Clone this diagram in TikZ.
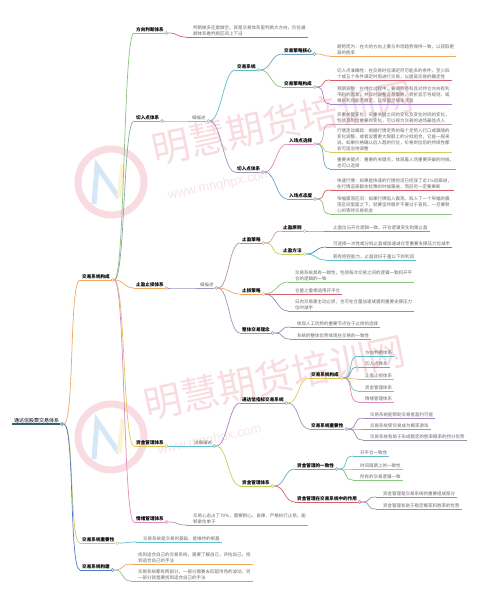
\documentclass[tikz,border=0pt]{standalone}
\usepackage{fontspec}
\newfontfamily\cjk{Noto Sans CJK SC}
\newfontfamily\wmsans{Liberation Sans}
\usetikzlibrary{calc}
\definecolor{cRoot}{RGB}{52,96,122}
\definecolor{cOrange}{RGB}{240,168,96}
\definecolor{cYG}{RGB}{200,205,100}
\definecolor{cBlue}{RGB}{80,125,195}
\definecolor{cGreen}{RGB}{140,195,130}
\definecolor{cGTeal}{RGB}{140,170,165}
\definecolor{cYellow}{RGB}{220,200,90}
\definecolor{cPink}{RGB}{225,140,185}
\definecolor{cRed}{RGB}{215,95,105}
\definecolor{cMauve}{RGB}{200,160,175}
\definecolor{cTeal}{RGB}{95,190,200}
\definecolor{cLav}{RGB}{160,150,190}
\definecolor{cBTeal}{RGB}{110,165,200}
\definecolor{cPurple}{RGB}{165,130,195}
\definecolor{cBrown}{RGB}{185,150,145}
\definecolor{cGrey}{RGB}{150,150,165}
\definecolor{cWm}{RGB}{249,220,225}
\definecolor{cWmUrl}{RGB}{247,228,231}
\definecolor{cLogoB}{RGB}{214,232,246}
\definecolor{cLogoY}{RGB}{251,243,210}
\definecolor{cLeafTxt}{RGB}{105,105,105}
\tikzset{
  lab/.style={font=\cjk\bfseries\fontsize{4.6}{5.5}\selectfont, inner sep=0pt, inner xsep=0.8pt, anchor=base west, text=black},
  rootlab/.style={font=\cjk\fontsize{5}{6}\selectfont, inner sep=0pt, inner xsep=0.8pt, anchor=base west, text=black},
  det/.style={font=\cjk\fontsize{4.4}{5.5}\selectfont, inner sep=0pt, inner xsep=0.8pt, anchor=base west, text=cLeafTxt},
  lftxt/.style={font=\cjk\fontsize{4.5}{5.9}\selectfont, inner sep=0pt, align=left, anchor=south west, text=cLeafTxt},
  dot/.style={circle, fill=white, inner sep=0pt, minimum size=3pt, line width=0.5pt, anchor=west},
  br/.style={line width=0.7pt},
  wm/.style={font=\cjk\fontsize{38}{38}\selectfont, text=cWm, rotate=12, anchor=west, inner sep=0pt},
  wmurl/.style={font=\wmsans\fontsize{13}{13}\selectfont, text=cWmUrl, rotate=12, anchor=west, inner sep=0pt},
}
% topic: style, name, x1, y, color, text
\newcommand\tpx[6]{%
  \coordinate (#2-in) at (#3,#4);
  \node[#1] (#2) at (#3+1.2,#4-1.5) {#6};
  \draw[br,#5] (#2-in) -- (#2.east |- #2-in) coordinate (#2-e);
  \node[dot,draw=#5] (#2-o) at (#2-e) {};
}
\newcommand\tp[5]{\tpx{lab}{#1}{#2}{#3}{#4}{#5}}
\newcommand\dt[5]{\tpx{det}{#1}{#2}{#3}{#4}{#5}}
% leaf: name, xtext, y, color, text
\newcommand\lf[5]{%
  \coordinate (#1-in) at (#2-7,#3);
  \node[lftxt] (#1) at (#2,#3-1.1) {#5};
  \draw[br,#4] (#1-in) -- ($(#1.east |- #1-in)+(2,0)$);
}
% connector: from, to, color
\newcommand\cn[3]{\draw[br,#3] (#1-o.east) to[out=0,in=180,distance=11pt] (#2-in);}
\begin{document}
\begin{tikzpicture}[x=1pt,y=-1pt]
\fill[white] (0,0) rectangle (500,601);
\useasboundingbox (0,0) rectangle (500,601);
% ---- watermark ----
\foreach \dy in {0,255}{
  \draw[cWm, line width=7pt] (111,182+\dy) circle (33);
  \draw[cLogoB, line width=5pt] (94,204+\dy) -- (97,166+\dy) -- (119,198+\dy);
  \draw[cLogoY, line width=5pt] (119,198+\dy) -- (123,164+\dy);
}
\node[wm] (wm1) at (152,150) {明慧期货培训网};
\node[wm] (wm2) at (144,405) {明慧期货培训网};
\node[wmurl] (wu1) at (168,196) {www.mnqhpx.com};
\node[wmurl] (wu2) at (158,451) {www.mnqhpx.com};
% ---- root ----
\coordinate (root-in) at (12,424);
\node[rootlab] (root) at (13.2,422.3) {通达信股票交易体系};
\draw[cRoot, line width=1.2pt] (root-in) -- (root.east |- root-in) coordinate (root-e);
\node[dot,draw=cRoot] (root-o) at (root-e) {};
% ---- level 1 ----
\tp{n1}{80}{280}{cOrange}{交易系统构成}
\tp{n2}{80}{543}{cYG}{交易系统重要性}
\tp{n3}{80}{570}{cBlue}{交易系统构建}
\cn{root}{n1}{cOrange}
\cn{root}{n2}{cYG}
\cn{root}{n3}{cBlue}
% ---- level 2 ----
\tp{a}{134}{33}{cGreen}{方向判断体系}
\tp{b}{134}{121}{cGTeal}{切入点体系}
\tp{c}{134}{288}{cOrange}{止盈止损体系}
\tp{d}{134}{446}{cYellow}{资金管理体系}
\tp{e}{134}{522}{cPink}{情绪管理体系}
\cn{n1}{a}{cGreen}
\cn{n1}{b}{cGTeal}
\cn{n1}{c}{cOrange}
\cn{n1}{d}{cYellow}
\cn{n1}{e}{cPink}
% 方向判断
\lf{a1}{193}{37}{cRed}{判断做多还是做空，就是交易体系里判断大方向，价位通\\顺体系看判断区间上下沿}
\cn{a}{a1}{cRed}
% 切入点体系
\dt{b0}{190}{121}{cMauve}{细描述}
\cn{b}{b0}{cMauve}
\tp{b1}{235}{70}{cTeal}{交易系统}
\tp{b2}{235}{172}{cLav}{切入点体系}
\cn{b0}{b1}{cTeal}
\cn{b0}{b2}{cLav}
\tp{b11}{282}{54}{cBTeal}{交易策略核心}
\tp{b12}{282}{87}{cGreen}{交易策略构成}
\cn{b1}{b11}{cBTeal}
\cn{b1}{b12}{cGreen}
\lf{b111}{337}{56}{cOrange}{顺势而为：在大的方向上要与市场趋势保持一致，以获取更\\高的胜率}
\cn{b11}{b111}{cOrange}
\lf{b121}{337}{80}{cRed}{切入点准确性：在交易时应满足尽可能多的条件，至少四\\个或五个条件满足时再进行交易，以提高交易的确定性}
\lf{b122}{337}{104}{cPurple}{预期调整：在持仓过程中，要顺势持有且对持仓方向有利\\不利的因素，并及时调整止盈策略，转折显示号规则，或\\根据利润能否稳定，以保留足够多浮盈}
\cn{b12}{b121}{cRed}
\cn{b12}{b122}{cPurple}
\tp{b21}{287}{144}{cPink}{入场点选择}
\tp{b22}{287}{199}{cBTeal}{入场点态度}
\cn{b2}{b21}{cPink}
\cn{b2}{b22}{cBTeal}
\lf{b211}{337}{124}{cMauve}{买重关键变化：买重关键之间的变化及变化时间的变化，\\包括及到位重要的变化，可以视为交易的进场最佳点入}
\lf{b212}{337}{152}{cYellow}{行情走动跟踪：根据行情走势的每个走势入行口或跟随的\\变化调整，或者设置更大限额上的分批组合，它能一般来\\说，如果价格确认后入趋的价位，价格到位后的持续性都\\会可适当地调整}
\lf{b213}{337}{169}{cBTeal}{重要关键点：重要的关键点，体现着入场重要突破的时候，\\也可以选择}
\cn{b21}{b211}{cMauve}
\cn{b21}{b212}{cYellow}
\cn{b21}{b213}{cBTeal}
\lf{b221}{337}{190}{cRed}{快速行情：如果是快速的行情的话已经涨了近1\%后跟进，\\在行情追高都会犹豫的时候跟进，而后另一定要果断}
\lf{b222}{337}{214}{cGreen}{窄幅震荡区间：如果行情陷入震荡，陷入了一个窄幅的震\\荡区间里面之下，就要坚持稳步不要过于盲目，一旦要耐\\心的等待交易机会}
\cn{b22}{b221}{cRed}
\cn{b22}{b222}{cGreen}
% 止盈止损体系
\dt{c0}{198}{288}{cLav}{细描述}
\cn{c}{c0}{cLav}
\tp{c1}{240}{243}{cBrown}{止盈策略}
\tp{c2}{240}{294}{cOrange}{止损策略}
\tp{c3}{240}{333}{cLav}{整体交易理念}
\cn{c0}{c1}{cBrown}
\cn{c0}{c2}{cOrange}
\cn{c0}{c3}{cLav}
\tp{c11}{281}{231}{cMauve}{止盈原则}
\tp{c12}{281}{254}{cYG}{止盈方法}
\cn{c1}{c11}{cMauve}
\cn{c1}{c12}{cYG}
\lf{c111}{333}{231}{cPurple}{止盈位与开仓逻辑一致，开仓逻辑变化则需止盈}
\cn{c11}{c111}{cPurple}
\lf{c121}{333}{247}{cBlue}{可选择一次性或分批止盈或加速减仓至重要支撑压力位减半}
\lf{c122}{333}{260}{cTeal}{若有把控能力，止盈就好于量以下的利润}
\cn{c12}{c121}{cBlue}
\cn{c12}{c122}{cTeal}
\lf{c21}{295}{282}{cGreen}{交易系统具有一致性，包括每次交易之间的逻辑一致和开平\\仓的逻辑的一致}
\lf{c22}{295}{294}{cRed}{仓量之量相适用开平仓}
\lf{c23}{295}{311}{cPurple}{日内交易需主动止损，也可在仓量加速或遇到重要支撑压力\\位时减半}
\cn{c2}{c21}{cGreen}
\cn{c2}{c22}{cRed}
\cn{c2}{c23}{cPurple}
\lf{c31}{297}{327}{cPurple}{体现人工优势的重要节点在于止损的选择}
\lf{c32}{297}{339}{cGrey}{系统的整体优势体现在交易的一致性}
\cn{c3}{c31}{cPurple}
\cn{c3}{c32}{cGrey}
% 资金管理体系
\dt{d0}{192}{446}{cTeal}{详细描述}
\cn{d}{d0}{cTeal}
\tp{d1}{240}{403}{cPurple}{通达信指标交易系统}
\tp{d2}{240}{486}{cYG}{资金管理体系}
\cn{d0}{d1}{cPurple}
\cn{d0}{d2}{cYG}
\tp{d11}{309}{378}{cYellow}{交易系统构成}
\tp{d12}{309}{429}{cLav}{交易系统重要性}
\cn{d1}{d11}{cYellow}
\cn{d1}{d12}{cLav}
\lf{d111}{365}{356}{cTeal}{方向判断体系}
\lf{d112}{365}{367}{cBTeal}{切入点体系}
\lf{d113}{365}{379}{cOrange}{止盈止损体系}
\lf{d114}{365}{391}{cGreen}{资金管理体系}
\lf{d115}{365}{402}{cPink}{情绪管理体系}
\cn{d11}{d111}{cTeal}
\cn{d11}{d112}{cBTeal}
\cn{d11}{d113}{cOrange}
\cn{d11}{d114}{cGreen}
\cn{d11}{d115}{cPink}
\lf{d121}{370}{418}{cPurple}{交易系统能帮助交易者盈利可能}
\lf{d122}{370}{429}{cLav}{交易系统使交易成为概率游戏}
\lf{d123}{370}{440}{cGrey}{交易系统有助于形成稳定的胜率概率的持分优势}
\cn{d12}{d121}{cPurple}
\cn{d12}{d122}{cLav}
\cn{d12}{d123}{cGrey}
\tp{d21}{295}{469}{cBTeal}{资金管理的一致性}
\tp{d22}{295}{502}{cRed}{资金管理在交易系统中的作用}
\cn{d2}{d21}{cBTeal}
\cn{d2}{d22}{cRed}
\lf{d211}{360}{456}{cTeal}{开平仓一致性}
\lf{d212}{360}{469}{cOrange}{时间周期上的一致性}
\lf{d213}{360}{480}{cGreen}{所有的交易逻辑一致}
\cn{d21}{d211}{cTeal}
\cn{d21}{d212}{cOrange}
\cn{d21}{d213}{cGreen}
\lf{d221}{383}{497}{cPurple}{资金管理是交易系统的重要组成部分}
\lf{d222}{383}{509}{cGrey}{资金管理有助于稳定概率和胜率的优势}
\cn{d22}{d221}{cPurple}
\cn{d22}{d222}{cGrey}
% 情绪管理体系
\lf{e1}{193}{525}{cLav}{交易心态占了70\%，需要耐心、自律、严格执行止损，能\\够拿住单子}
\cn{e}{e1}{cLav}
% 交易系统重要性 / 构建
\lf{n21}{143}{542}{cTeal}{交易系统是交易的基础，是维持的根基}
\cn{n2}{n21}{cTeal}
\lf{n31}{138}{564}{cOrange}{找到适合自己的交易系统，需要了解自己，评估自己，找\\到适合自己的手法}
\lf{n32}{138}{581}{cGreen}{交易系统都有两部分，一部分需要去匹配市场的波动，另\\一部分就是要找到适合自己的手法}
\cn{n3}{n31}{cOrange}
\cn{n3}{n32}{cGreen}
\end{tikzpicture}
\end{document}
